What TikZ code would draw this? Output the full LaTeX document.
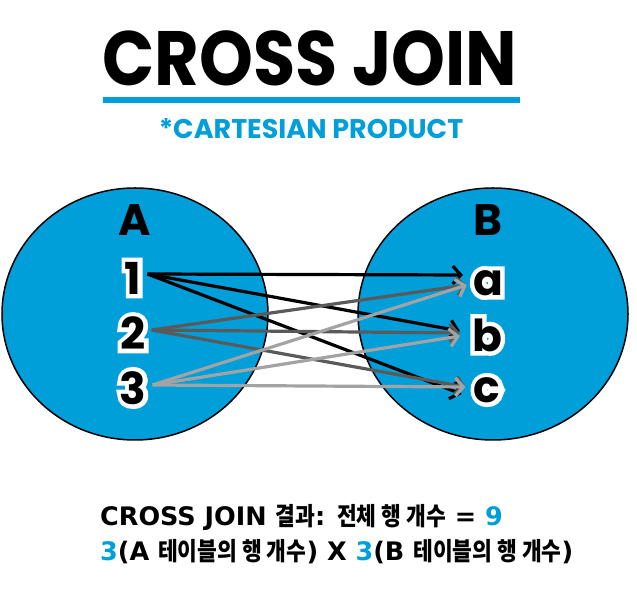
\documentclass[tikz,border=0pt]{standalone}
\usepackage{fontspec}
\setmainfont{Poppins}
\newfontfamily\halofont{Poppins}[BoldFeatures={FakeBold=20}]
\newfontfamily\kor{Noto Sans CJK KR}
\newfontfamily\resfont{DejaVu Sans}
\usetikzlibrary{positioning,arrows.meta,calc}
\definecolor{SetBlue}{HTML}{009FDA}
\definecolor{LinkOne}{HTML}{000000}
\definecolor{LinkTwo}{HTML}{5A5A5A}
\definecolor{LinkThree}{HTML}{A3A3A3}
\newcommand{\hl}[1]{\textcolor{SetBlue}{#1}}
\newcommand{\kr}[1]{\scalebox{0.86}[1]{\kor\fontsize{25}{25}\selectfont #1}}
\newcommand{\setlabel}[3]{\node[halo] (#1halo) at (#2) {#3};\node[lbl] (#1) at (#2) {#3};}

\begin{document}
\begin{tikzpicture}[x=1pt,y=1pt,
  lbl/.style={font=\bfseries\fontsize{44}{44}\selectfont,inner sep=0pt},
  halo/.style={font=\halofont\bfseries\fontsize{44}{44}\selectfont,text=white,inner sep=0pt},
  result/.style={anchor=west,font=\resfont\bfseries\fontsize{25.5}{26}\selectfont,inner sep=0pt},
  link/.style={line width=3.2pt,-{Straight Barb[length=8pt,width=18pt]}}]
  \useasboundingbox[fill=white] (0,0) rectangle (637,596);
  % heading
  \node[font=\bfseries\fontsize{77}{77}\selectfont,inner sep=0pt] (title) at (310,538) {\scalebox{0.89}[1]{CROSS JOIN}};
  \draw[SetBlue,line width=6pt] (103,496) -- (520,496);
  \node[font=\bfseries\fontsize{27}{27}\selectfont,text=SetBlue,inner sep=0pt] (sub) at (311,467) {*CARTESIAN PRODUCT};
  % the two sets
  \draw[fill=SetBlue,line width=1.5pt] (135,282) ellipse [x radius=133,y radius=126];
  \draw[fill=SetBlue,line width=1.5pt] (493,282) ellipse [x radius=135,y radius=126];
  \node[lbl] (setA) at (135,376) {A};
  \node[lbl] (setB) at (488,376) {B};
  \setlabel{n1}{133,318}{1}
  \setlabel{n2}{133,263}{2}
  \setlabel{n3}{133,208}{3}
  \setlabel{na}{488,313}{a}
  \setlabel{nb}{487,261}{b}
  \setlabel{nc}{487,206}{c}
  % every pair
  \draw[link,LinkOne] ([xshift=6pt,yshift=4pt]n1.east) -- ([xshift=-10pt,yshift=8pt]na.west);
  \draw[link,LinkOne] ([xshift=6pt,yshift=4pt]n1.east) -- ([xshift=-12pt,yshift=4pt]nb.west);
  \draw[link,LinkOne] ([xshift=6pt,yshift=4pt]n1.east) -- ([xshift=-12pt,yshift=-4pt]nc.west);
  \draw[link,LinkTwo] ([xshift=6pt,yshift=3pt]n2.east) -- ([xshift=-6pt,yshift=-2pt]na.west);
  \draw[link,LinkTwo] ([xshift=6pt,yshift=3pt]n2.east) -- ([xshift=-12pt,yshift=2pt]nb.west);
  \draw[link,LinkTwo] ([xshift=6pt,yshift=3pt]n2.east) -- ([xshift=-8pt,yshift=3pt]nc.west);
  \draw[link,LinkThree] ([xshift=6pt,yshift=3pt]n3.east) -- ([xshift=-6pt,yshift=-2pt]na.west);
  \draw[link,LinkThree] ([xshift=6pt,yshift=3pt]n3.east) -- ([xshift=-12pt,yshift=-1pt]nb.west);
  \draw[link,LinkThree] ([xshift=6pt,yshift=3pt]n3.east) -- ([xshift=-8pt,yshift=3pt]nc.west);
  % result
  \node[result] (total) at (100,78) {CROSS JOIN \kr{결과}: \kr{전체 행 개수} = \hl{9}};
  \node[result] (formula) at (100,44) {\hl{3}(A \kr{테이블의 행 개수}) X \hl{3}(B \kr{테이블의 행 개수})};
\end{tikzpicture}
\end{document}
